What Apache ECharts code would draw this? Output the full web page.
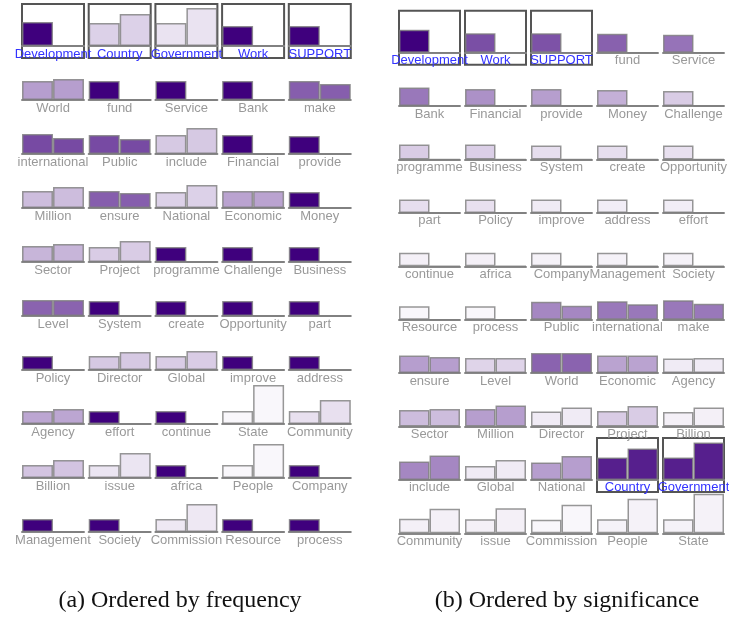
<!DOCTYPE html>
<html lang="en">
  <head>
    <meta charset="utf-8" />
    <title>Word bars</title>
    <script src="https://cdn.jsdelivr.net/npm/echarts@6.0.0/dist/echarts.min.js"></script>
    <style>
      html,
      body {
        margin: 0;
        padding: 0;
        background: #fff;
      }
      #main {
        width: 729px;
        height: 619px;
      }
    </style>
  </head>

  <body>
    <div id="main"></div>

    <script>
      // two bars per word
      var pairNames = ["first", "second"];

      // (a) ordered by frequency
      var wordsA = [
        "Development", "Country", "Government", "Work", "SUPPORT",
        "World", "fund", "Service", "Bank", "make",
        "international", "Public", "include", "Financial", "provide",
        "Million", "ensure", "National", "Economic", "Money",
        "Sector", "Project", "programme", "Challenge", "Business",
        "Level", "System", "create", "Opportunity", "part",
        "Policy", "Director", "Global", "improve", "address",
        "Agency", "effort", "continue", "State", "Community",
        "Billion", "issue", "africa", "People", "Company",
        "Management", "Society", "Commission", "Resource", "process"
      ];
      var leftA = [
        24, 23, 23, 20, 20,
        19, 19, 19, 19, 19,
        20, 19, 19, 19, 18,
        17, 17, 16, 17, 16,
        16, 15, 15, 15, 15,
        16, 15, 15, 15, 15,
        14, 14, 14, 14, 14,
        13, 13, 13, 13, 13,
        13, 13, 13, 13, 13,
        13, 13, 13, 13, 13
      ];
      var rightA = [
        0, 32, 38, 0, 0,
        21, 0, 0, 0, 16,
        16, 15, 26, 0, 0,
        21, 15, 23, 17, 0,
        18, 21, 0, 0, 0,
        16, 0, 0, 0, 0,
        0, 18, 19, 0, 0,
        15, 0, 0, 39, 24,
        18, 25, 0, 34, 0,
        0, 0, 28, 0, 0
      ];
      var shadeA = [
        1, 0.18, 0.11, 1, 1,
        0.38, 1, 1, 1, 0.63,
        0.71, 0.71, 0.21, 1, 1,
        0.26, 0.63, 0.18, 0.36, 1,
        0.29, 0.2, 1, 1, 1,
        0.61, 1, 1, 1, 1,
        1, 0.21, 0.2, 1, 1,
        0.35, 1, 1, 0.03, 0.12,
        0.23, 0.1, 1, 0.03, 1,
        1, 1, 0.09, 1, 1
      ];
      var markedA = ["Development", "Country", "Government", "Work", "SUPPORT"];

      // (b) ordered by significance
      var wordsB = [
        "Development", "Work", "SUPPORT", "fund", "Service",
        "Bank", "Financial", "provide", "Money", "Challenge",
        "programme", "Business", "System", "create", "Opportunity",
        "part", "Policy", "improve", "address", "effort",
        "continue", "africa", "Company", "Management", "Society",
        "Resource", "process", "Public", "international", "make",
        "ensure", "Level", "World", "Economic", "Agency",
        "Sector", "Million", "Director", "Project", "Billion",
        "include", "Global", "National", "Country", "Government",
        "Community", "issue", "Commission", "People", "State"
      ];
      var leftB = [
        23, 19.5, 19.5, 19, 18,
        18.5, 17, 17, 16, 15,
        15, 15, 14, 14, 14,
        13.5, 13.5, 13.5, 13.5, 13.5,
        13.5, 13.5, 13.5, 13.5, 13.5,
        13.5, 13.5, 18, 18.5, 19.5,
        17.5, 15, 20, 17.5, 14.5,
        16.5, 17.5, 15, 15.5, 14.5,
        18.5, 14, 17.5, 22.5, 22.5,
        14.5, 14, 13.5, 14, 14
      ];
      var rightB = [
        0, 0, 0, 0, 0,
        0, 0, 0, 0, 0,
        0, 0, 0, 0, 0,
        0, 0, 0, 0, 0,
        0, 0, 0, 0, 0,
        0, 0, 14, 15.5, 16,
        16, 15, 20, 17.5, 15,
        17.5, 21, 19, 20.5, 19,
        24.5, 20, 24, 31.5, 37.5,
        24.5, 25, 28.5, 34.5, 39.5
      ];
      var shadeB = [
        1, 0.69, 0.68, 0.62, 0.55,
        0.53, 0.43, 0.38, 0.31, 0.2,
        0.2, 0.19, 0.13, 0.13, 0.12,
        0.13, 0.12, 0.08, 0.07, 0.07,
        0.06, 0.06, 0.05, 0.05, 0.05,
        0.03, 0.03, 0.47, 0.53, 0.53,
        0.38, 0.17, 0.61, 0.36, 0.08,
        0.26, 0.38, 0.08, 0.2, 0.06,
        0.47, 0.08, 0.38, 0.88, 0.88,
        0.06, 0.06, 0.03, 0.05, 0.05
      ];
      var markedB = ["Development", "Work", "SUPPORT", "Country", "Government"];

      var captions = ["(a) Ordered by frequency", "(b) Ordered by significance"];

      // layout of the two small-multiple panels
      var panels = [
        { words: wordsA, left: leftA, right: rightA, shade: shadeA, marked: markedA,
          x0: 22, y0: 46, dx: 66.7, dy: 54, w: 62, cx: 175 },
        { words: wordsB, left: leftB, right: rightB, shade: shadeB, marked: markedB,
          x0: 399, y0: 52.7, dx: 66, dy: 53.4, w: 61, cx: 562 }
      ];
      var yTop = 42; // bar room above the baseline
      var yBottom = 12; // label room below it

      var grids = [];
      var xAxes = [];
      var yAxes = [];
      var series = [];

      panels.forEach(function (p) {
        p.words.forEach(function (word, i) {
          var k = grids.length;
          var col = i % 5;
          var row = Math.floor(i / 5);
          var isMarked = p.marked.indexOf(word) >= 0;
          grids.push({
            left: p.x0 + col * p.dx,
            top: p.y0 + row * p.dy - yTop,
            width: p.w,
            height: yTop + yBottom,
            show: isMarked,
            borderColor: "#555",
            borderWidth: 2,
            backgroundColor: "transparent",
            outerBoundsMode: "none",
          });
          xAxes.push({
            gridIndex: k,
            type: "category",
            data: pairNames,
            name: word,
            nameLocation: "middle",
            nameGap: -10.5,
            nameTextStyle: {
              fontFamily: "Liberation Sans",
              fontSize: 13,
              color: isMarked ? "#3333ff" : "#999",
            },
            axisTick: { show: false },
            axisLabel: { show: false },
            splitLine: { show: false },
            axisLine: {
              onZero: true,
              lineStyle: { color: "#888", width: 2 },
            },
          });
          yAxes.push({
            gridIndex: k,
            type: "value",
            min: -yBottom,
            max: yTop,
            show: false,
          });
          series.push({
            type: "bar",
            xAxisIndex: k,
            yAxisIndex: k,
            silent: true,
            barWidth: "100%",
            data: [p.left[i], p.right[i]],
            itemStyle: {
              color: "rgba(63,0,125," + p.shade[i] + ")",
              borderColor: "rgba(125,125,125,0.8)",
              borderWidth: 1.5,
            },
          });
        });
      });

      var titles = panels.map(function (p, i) {
        return {
          text: captions[i],
          left: p.cx,
          top: 584,
          textAlign: "center",
          textStyle: {
            fontFamily: "Liberation Serif",
            fontSize: 24,
            fontWeight: "normal",
            color: "#111",
          },
        };
      });

      var myChart = echarts.init(document.getElementById("main"));
      myChart.setOption({
        backgroundColor: "#fff",
        animation: false,
        title: titles,
        grid: grids,
        xAxis: xAxes,
        yAxis: yAxes,
        series: series,
      });
    </script>
  </body>
</html>
